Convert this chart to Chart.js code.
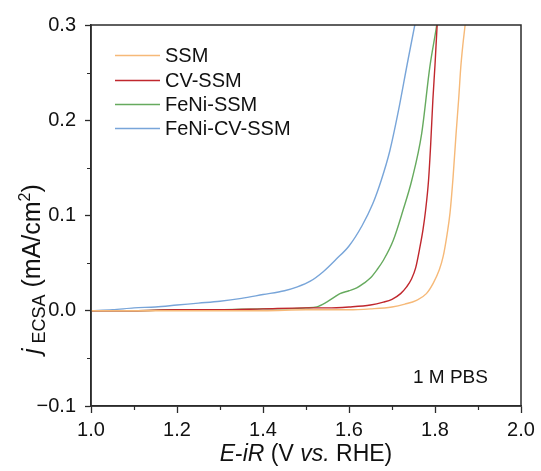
<!DOCTYPE html>
<html>
<head>
<meta charset="utf-8">
<script src="https://cdn.jsdelivr.net/npm/chart.js@4"></script>
<style>
  html, body { margin: 0; padding: 0; background: #fff; }
  #wrap { width: 541px; height: 471px; }
</style>
</head>
<body>
<div id="wrap"><canvas id="c" width="541" height="471"></canvas></div>
<script>
// ---- data ----
const seriesNames = ['SSM', 'CV-SSM', 'FeNi-SSM', 'FeNi-CV-SSM'];
const seriesColors = ['#F6B978', '#C0272D', '#66AA5E', '#78A5D9'];

const ssmE = [1.00, 1.10, 1.20, 1.30, 1.40, 1.50, 1.60, 1.65, 1.70, 1.73, 1.757, 1.78, 1.796, 1.81, 1.819, 1.828, 1.835, 1.842, 1.849, 1.855, 1.86, 1.865, 1.870, 1.873];
const ssmJ = [0.000, 0.000, 0.000, 0.000, 0.000, 0.001, 0.001, 0.002, 0.004, 0.007, 0.011, 0.018, 0.029, 0.043, 0.057, 0.080, 0.103, 0.140, 0.186, 0.222, 0.256, 0.280, 0.300, 0.315];

const cvE = [1.00, 1.10, 1.20, 1.30, 1.40, 1.50, 1.55, 1.60, 1.65, 1.68, 1.70, 1.72, 1.734, 1.745, 1.755, 1.765, 1.772, 1.778, 1.785, 1.79, 1.795, 1.800, 1.805, 1.808];
const cvJ = [0.000, 0.000, 0.001, 0.001, 0.002, 0.003, 0.003, 0.004, 0.006, 0.009, 0.012, 0.018, 0.025, 0.033, 0.045, 0.067, 0.085, 0.105, 0.137, 0.175, 0.221, 0.258, 0.300, 0.320];

const feniE = [1.00, 1.10, 1.20, 1.30, 1.40, 1.45, 1.50, 1.525, 1.548, 1.565, 1.579, 1.60, 1.618, 1.635, 1.649, 1.665, 1.68, 1.703, 1.726, 1.746, 1.769, 1.788, 1.804, 1.81];
const feniJ = [0.000, 0.000, 0.001, 0.001, 0.002, 0.002, 0.003, 0.004, 0.009, 0.014, 0.018, 0.021, 0.024, 0.029, 0.034, 0.043, 0.053, 0.074, 0.106, 0.137, 0.186, 0.256, 0.300, 0.320];

const feniCvE = [1.00, 1.05, 1.10, 1.15, 1.20, 1.25, 1.30, 1.35, 1.40, 1.45, 1.48, 1.51, 1.54, 1.57, 1.60, 1.63, 1.655, 1.675, 1.695, 1.715, 1.735, 1.753, 1.76];
const feniCvJ = [0.000, 0.001, 0.003, 0.004, 0.006, 0.008, 0.010, 0.013, 0.017, 0.021, 0.025, 0.031, 0.041, 0.054, 0.068, 0.089, 0.112, 0.137, 0.168, 0.210, 0.258, 0.300, 0.315];

const xMajorTicks = [1.0, 1.2, 1.4, 1.6, 1.8, 2.0];
const xMinorTicks = [1.1, 1.3, 1.5, 1.7, 1.9];
const yMajorTicks = [-0.1, 0.0, 0.1, 0.2, 0.3];
const yMinorTicks = [-0.05, 0.05, 0.15, 0.25];
const annotationText = '1 M PBS';

// ---- build ----
const FONT = "'Liberation Sans', Arial, Helvetica, sans-serif";
const AXIS = '#2b2b2b';
const pairs = (xs, ys) => xs.map((x, i) => ({ x: x, y: ys[i] }));
const allE = [ssmE, cvE, feniE, feniCvE];
const allJ = [ssmJ, cvJ, feniJ, feniCvJ];

const datasets = seriesNames.map((name, i) => ({
  label: name,
  data: pairs(allE[i], allJ[i]),
  borderColor: seriesColors[i],
  backgroundColor: seriesColors[i],
  borderWidth: 1.4,
  pointRadius: 0,
  showLine: true,
  cubicInterpolationMode: 'monotone',
  fill: false
}));

function drawRich(ctx, parts, x, y) {
  let cx = x;
  for (const p of parts) {
    ctx.font = (p.italic ? 'italic ' : '') + p.size + 'px ' + FONT;
    ctx.fillText(p.text, cx, y + (p.dy || 0));
    cx += ctx.measureText(p.text).width + (p.gap || 0);
  }
  return cx - x;
}
function measureRich(ctx, parts) {
  let w = 0;
  for (const p of parts) {
    ctx.font = (p.italic ? 'italic ' : '') + p.size + 'px ' + FONT;
    w += ctx.measureText(p.text).width + (p.gap || 0);
  }
  return w;
}

const decor = {
  id: 'decor',
  afterDraw(chart) {
    const ctx = chart.ctx;
    const a = chart.chartArea;
    const xs = chart.scales.x, ys = chart.scales.y;
    ctx.save();
    // frame
    ctx.strokeStyle = AXIS;
    ctx.lineWidth = 1.5;
    ctx.strokeRect(a.left, a.top, a.right - a.left, a.bottom - a.top);
    // minor ticks
    ctx.lineWidth = 1.2;
    ctx.beginPath();
    xMinorTicks.forEach(v => {
      const px = Math.round(xs.getPixelForValue(v)) + 0.5;
      ctx.moveTo(px, a.bottom); ctx.lineTo(px, a.bottom + 4);
    });
    yMinorTicks.forEach(v => {
      const py = Math.round(ys.getPixelForValue(v)) + 0.5;
      ctx.moveTo(a.left, py); ctx.lineTo(a.left - 4, py);
    });
    ctx.stroke();

    ctx.fillStyle = '#111';
    ctx.textBaseline = 'alphabetic';
    ctx.textAlign = 'left';
    // x title
    const xt = [
      { text: 'E', italic: true, size: 23 },
      { text: '-', italic: false, size: 23 },
      { text: 'iR', italic: true, size: 23 },
      { text: ' (V ', italic: false, size: 23 },
      { text: 'vs.', italic: true, size: 23 },
      { text: ' RHE)', italic: false, size: 23 }
    ];
    const wx = measureRich(ctx, xt);
    drawRich(ctx, xt, (a.left + a.right) / 2 - wx / 2, 461);

    // y title (rotated)
    const yt = [
      { text: 'j', italic: true, size: 25, gap: 5 },
      { text: 'ECSA', italic: false, size: 18, dy: 5 },
      { text: ' (mA/cm', italic: false, size: 25 },
      { text: '2', italic: false, size: 16, dy: -10 },
      { text: ')', italic: false, size: 25 }
    ];
    ctx.save();
    ctx.translate(40, 354);
    ctx.rotate(-Math.PI / 2);
    drawRich(ctx, yt, 0, 0);
    ctx.restore();

    // legend
    const ly = [55, 80, 104, 128];
    seriesNames.forEach((name, i) => {
      ctx.strokeStyle = seriesColors[i];
      ctx.lineWidth = 1.5;
      ctx.beginPath();
      ctx.moveTo(115, ly[i] + 0.5); ctx.lineTo(160, ly[i] + 0.5);
      ctx.stroke();
      ctx.font = '20px ' + FONT;
      ctx.textBaseline = 'middle';
      ctx.fillText(name, 165, ly[i] + 1);
    });

    // annotation
    ctx.textBaseline = 'alphabetic';
    ctx.font = '19px ' + FONT;
    ctx.fillText(annotationText, 413, 383);
    ctx.restore();
  }
};

const fmt = v => {
  const r = Math.round(v * 10) / 10;
  return r < 0 ? '\u2212' + Math.abs(r).toFixed(1) : r.toFixed(1);
};

new Chart(document.getElementById('c'), {
  type: 'scatter',
  data: { datasets: datasets },
  options: {
    responsive: false,
    animation: false,
    devicePixelRatio: 1,
    layout: { padding: { top: 25, right: 20, left: 0, bottom: 0 } },
    plugins: { legend: { display: false }, tooltip: { enabled: false } },
    scales: {
      x: {
        type: 'linear', min: 1.0, max: 2.0,
        afterBuildTicks: s => { s.ticks = xMajorTicks.map(v => ({ value: v })); },
        afterFit: s => { s.height = 65; },
        ticks: { callback: fmt, color: '#111', font: { family: FONT, size: 20 }, padding: 5, maxRotation: 0 },
        grid: { drawOnChartArea: false, drawTicks: true, tickLength: 7, color: AXIS, tickWidth: 1.3 },
        border: { display: true, color: AXIS, width: 1.5 },
        title: { display: false }
      },
      y: {
        type: 'linear', min: -0.1, max: 0.3,
        afterBuildTicks: s => { s.ticks = yMajorTicks.map(v => ({ value: v })); },
        afterFit: s => { s.width = 91; },
        ticks: { callback: fmt, color: '#111', font: { family: FONT, size: 20 }, padding: 9 },
        grid: { drawOnChartArea: false, drawTicks: true, tickLength: 6, color: AXIS, tickWidth: 1.3 },
        border: { display: true, color: AXIS, width: 1.5 },
        title: { display: false }
      }
    }
  },
  plugins: [decor]
});
</script>
</body>
</html>
